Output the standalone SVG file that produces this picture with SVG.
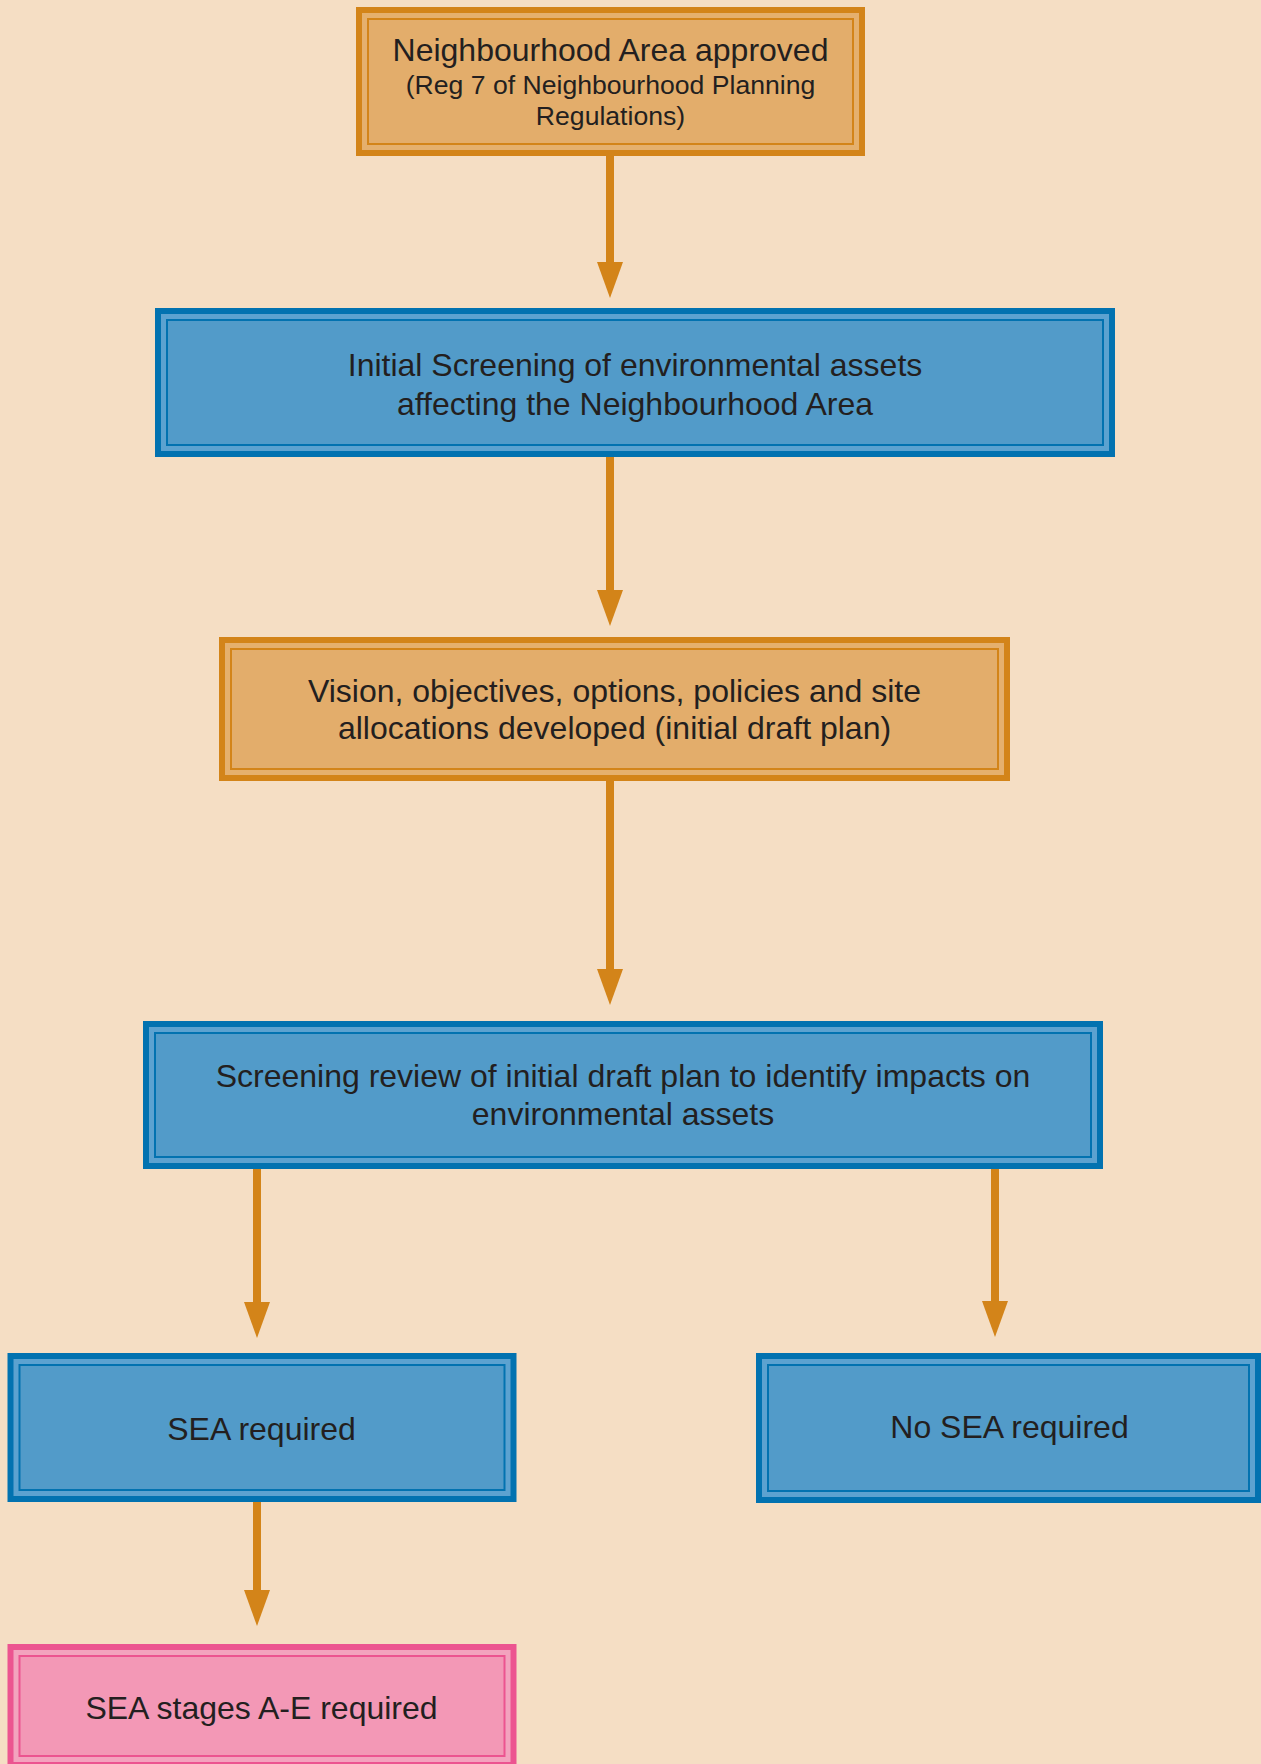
<svg xmlns="http://www.w3.org/2000/svg" width="1261" height="1764" viewBox="0 0 1261 1764">
<defs>
<style>
.bg{fill:#F5DEC4}
.o-out{fill:#E5B06E;stroke:#D38419;stroke-width:6}
.o-in{fill:#E3AD6B;stroke:#D38419;stroke-width:2}
.b-out{fill:#5CA2D0;stroke:#0272B0;stroke-width:6}
.b-in{fill:#529BC9;stroke:#0272B0;stroke-width:2}
.p-out{fill:#F3A3BE;stroke:#EC5490;stroke-width:6}
.p-in{fill:#F398B6;stroke:#EC5490;stroke-width:2}
text{font-family:"Liberation Sans",Arial,sans-serif;fill:#231F20;text-anchor:middle;font-size:32px}
.sub{font-size:26.6px}
.conn{stroke:#D38419;stroke-width:8;fill:none}
</style>
<marker id="ah" viewBox="0 0 36 26" refX="0" refY="13" markerWidth="36" markerHeight="26" markerUnits="userSpaceOnUse" orient="auto">
<path d="M0,0 L36,13 L0,26 Z" fill="#D38419"/>
</marker>
</defs>
<rect class="bg" x="0" y="0" width="1261" height="1764"/>
<g id="connectors">
<line class="conn" x1="610" y1="156" x2="610" y2="262" marker-end="url(#ah)"/>
<line class="conn" x1="610" y1="457" x2="610" y2="590" marker-end="url(#ah)"/>
<line class="conn" x1="610" y1="781" x2="610" y2="969" marker-end="url(#ah)"/>
<line class="conn" x1="257" y1="1169" x2="257" y2="1302" marker-end="url(#ah)"/>
<line class="conn" x1="995" y1="1169" x2="995" y2="1301" marker-end="url(#ah)"/>
<line class="conn" x1="257" y1="1502" x2="257" y2="1590" marker-end="url(#ah)"/>
</g>
<g id="node-area-approved">
<rect class="o-out" x="359" y="10" width="503" height="143"/>
<rect class="o-in" x="368" y="19" width="485" height="125"/>
<text x="610.5" y="61">Neighbourhood Area approved</text>
<text class="sub" x="610.5" y="94">(Reg 7 of Neighbourhood Planning</text>
<text class="sub" x="610.5" y="125">Regulations)</text>
</g>
<g id="node-initial-screening">
<rect class="b-out" x="158" y="311" width="954" height="143"/>
<rect class="b-in" x="167" y="320" width="936" height="125"/>
<text x="635" y="376">Initial Screening of environmental assets</text>
<text x="635" y="415">affecting the Neighbourhood Area</text>
</g>
<g id="node-vision">
<rect class="o-out" x="222" y="640" width="785" height="138"/>
<rect class="o-in" x="231" y="649" width="767" height="120"/>
<text x="614.5" y="702">Vision, objectives, options, policies and site</text>
<text x="614.5" y="739">allocations developed (initial draft plan)</text>
</g>
<g id="node-screening-review">
<rect class="b-out" x="146" y="1024" width="954" height="142"/>
<rect class="b-in" x="155" y="1033" width="936" height="124"/>
<text x="623" y="1087">Screening review of initial draft plan to identify impacts on</text>
<text x="623" y="1125">environmental assets</text>
</g>
<g id="node-sea-required">
<rect class="b-out" x="10.5" y="1356" width="503" height="143"/>
<rect class="b-in" x="19.5" y="1365" width="485" height="125"/>
<text x="261.5" y="1439.5">SEA required</text>
</g>
<g id="node-no-sea">
<rect class="b-out" x="759" y="1356" width="499" height="144"/>
<rect class="b-in" x="768" y="1365" width="481" height="126"/>
<text x="1009.5" y="1438">No SEA required</text>
</g>
<g id="node-sea-stages">
<rect class="p-out" x="10.5" y="1647" width="503" height="118"/>
<rect class="p-in" x="19.5" y="1656" width="485" height="100"/>
<text x="261.5" y="1718.5">SEA stages A-E required</text>
</g>
</svg>
